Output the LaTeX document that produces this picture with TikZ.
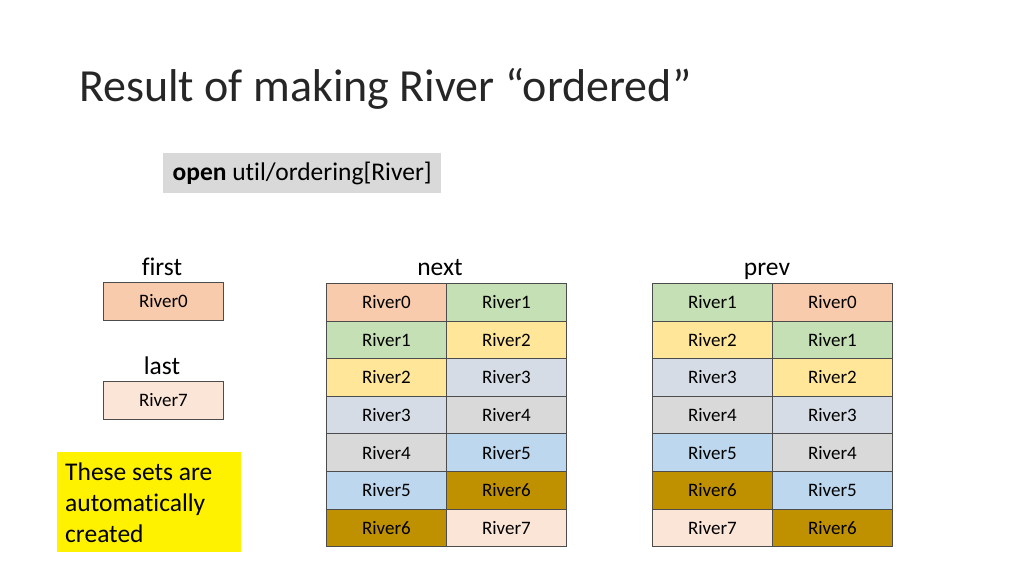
\documentclass[tikz,border=0pt]{standalone}
\usepackage{fontspec}
\setmainfont{Carlito}[Ligatures=NoCommon]
\definecolor{c0}{HTML}{F8CBAD}
\definecolor{c1}{HTML}{C5E0B4}
\definecolor{c2}{HTML}{FFE699}
\definecolor{c3}{HTML}{D6DCE5}
\definecolor{c4}{HTML}{D9D9D9}
\definecolor{c5}{HTML}{BDD7EE}
\definecolor{c6}{HTML}{BF9000}
\definecolor{c7}{HTML}{FBE5D6}
\definecolor{codebg}{HTML}{D9D9D9}
\begin{document}
\begin{tikzpicture}[x=1pt,y=-1pt,
  cell/.style={draw=black!70, line width=0.8pt, minimum width=120pt, minimum height=37.6pt,
    inner sep=0pt, anchor=north west, font=\fontsize{19}{22}\selectfont},
  lbl/.style={font=\fontsize{25.5}{30}\selectfont, anchor=base},
  single/.style={draw=black!70, line width=0.8pt, minimum width=120pt, minimum height=37.5pt,
    inner sep=0pt, anchor=north west, font=\fontsize{19}{22}\selectfont}]
\useasboundingbox (0,0) rectangle (1024,576);
\node[anchor=base west, inner sep=0pt, font=\fontsize{46}{54}\selectfont, text=black!85] (title) at (79,101) {Result of making River “ordered”};
\node[fill=codebg, minimum width=278pt, minimum height=40pt, anchor=north west, inner sep=0pt] (code) at (163,153) {};
\node[font=\fontsize{25.5}{30}\selectfont, inner sep=0pt] (codetxt) at (code.center) {\textbf{open} util/ordering[River]};
\node[lbl] (first) at (162,275) {first};
\node[lbl] (last) at (162,374) {last};
\node[lbl] (next) at (440,275) {next};
\node[lbl] (prev) at (767,275) {prev};
\node[single, fill=c0] (firstbox) at (103,282) {River0};
\node[single, fill=c7] (lastbox) at (103,381) {River7};
\node[fill=yellow, minimum width=184pt, minimum height=100pt, anchor=north west, inner sep=0pt] (note) at (57,452) {};
\node[anchor=north west, align=left, inner sep=0pt, font=\fontsize{25.5}{31}\selectfont] (notetxt) at (65,463) {These sets are\\automatically\\created};
\foreach \i in {0,...,6} {
  \pgfmathtruncatemacro{\j}{\i+1}
  \node[cell, fill=c\i] (na\i) at (326, {283+37.6*\i}) {River\i};
  \node[cell, fill=c\j] (nb\i) at (446, {283+37.6*\i}) {River\j};
  \node[cell, fill=c\j] (pa\i) at (652, {283+37.6*\i}) {River\j};
  \node[cell, fill=c\i] (pb\i) at (772, {283+37.6*\i}) {River\i};
}
\end{tikzpicture}
\end{document}
